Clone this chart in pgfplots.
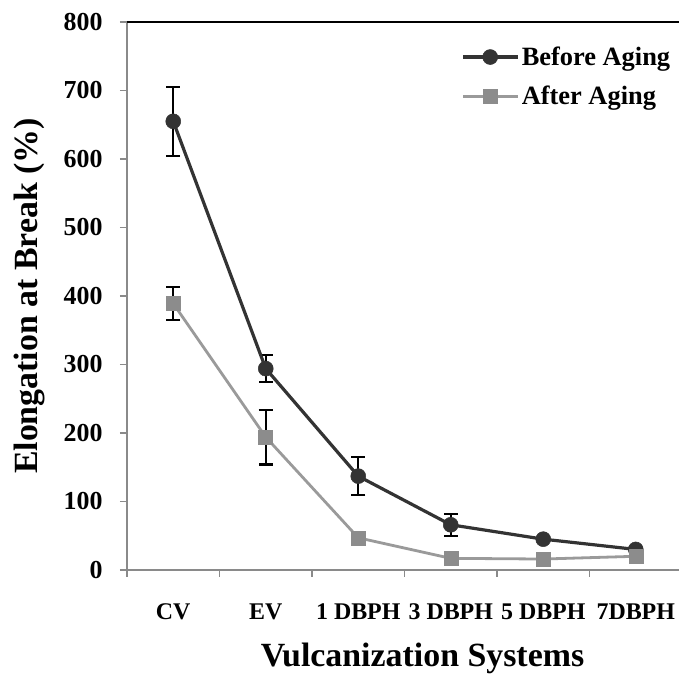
\documentclass[border=0pt]{standalone}
\usepackage{fontspec}
\setmainfont{Liberation Serif}
\usepackage{pgfplots}
\pgfplotsset{compat=1.18}
\definecolor{bef}{HTML}{333333}
\definecolor{aft}{HTML}{9A9A9A}
\definecolor{aftm}{HTML}{8C8C8C}
\definecolor{spine}{HTML}{8A8A8A}
\begin{document}
\begin{tikzpicture}
\begin{axis}[
 scale only axis, width=555bp, height=548bp,
 xmin=-0.5, xmax=5.5, ymin=0, ymax=800,
 axis x line*=bottom, axis y line*=left,
 axis line style={spine, line width=1.2bp, -},
 xtick={-0.5,0.5,...,5.5},
 x tick label as interval,
 xticklabels={CV,EV,1 DBPH,3 DBPH,5 DBPH,7DBPH},
 ytick={0,100,...,800},
 tick align=outside,
 major tick length=7bp,
 tick style={spine, line width=1.2bp},
 /pgf/number format/assume math mode=true,
 xticklabel style={font=\fontsize{24}{28}\selectfont\bfseries, yshift=-23bp},
 yticklabel style={font=\fontsize{26}{30}\selectfont\bfseries, xshift=-14bp},
 xlabel={Vulcanization Systems},
 ylabel={Elongation at Break (\%)},
 label style={font=\fontsize{34}{38}\selectfont\bfseries},
 xlabel style={xshift=18bp, yshift=-16bp},
 ylabel style={yshift=12bp},
 legend style={draw=none, fill=none, at={(rel axis cs:0.988,0.962)}, anchor=north east,
   font=\fontsize{26.5}{30}\selectfont\bfseries, row sep=15bp},
 legend cell align=left,
 legend image code/.code={\draw[mark repeat=2,mark phase=2,#1] plot coordinates {(0bp,0bp) (27bp,0bp) (55bp,0bp)};},
 clip=false,
]
% error bars (drawn first, markers cover them)
\addplot[forget plot, draw=none, mark=none,
  error bars/.cd, y dir=both, y explicit,
  error bar style={black, line width=2bp},
  error mark options={rotate=90, mark size=7bp, black, line width=2bp}]
  coordinates {(0,655) +- (0,50) (1,294) +- (0,20) (2,137) +- (0,28) (3,66) +- (0,16)};
\addplot[forget plot, draw=none, mark=none,
  error bars/.cd, y dir=both, y explicit,
  error bar style={black, line width=2bp},
  error mark options={rotate=90, mark size=7bp, black, line width=2bp}]
  coordinates {(0,389) +- (0,24) (1,194) +- (0,40)};
\addplot[bef, line width=3.2bp, mark=*, mark size=7.5bp, mark options={fill=bef, draw=bef, line width=0.5bp}]
  coordinates {(0,655) (1,294) (2,137) (3,66) (4,45) (5,30)};
\addlegendentry{Before Aging}
\addplot[aft, line width=2.8bp, mark=square*, mark size=7bp, mark options={fill=aftm, draw=aftm, line width=0.5bp}]
  coordinates {(0,389) (1,194) (2,47) (3,17) (4,16) (5,20)};
\addlegendentry{After Aging}
\draw[black, line width=1.8bp] (rel axis cs:0,1) -- (rel axis cs:1,1);
\end{axis}
\pgfresetboundingbox
\path ([xshift=-127bp,yshift=-106bp]current axis.south west) rectangle ([xshift=-3bp,yshift=22bp]current axis.north east);
\end{tikzpicture}
\end{document}
